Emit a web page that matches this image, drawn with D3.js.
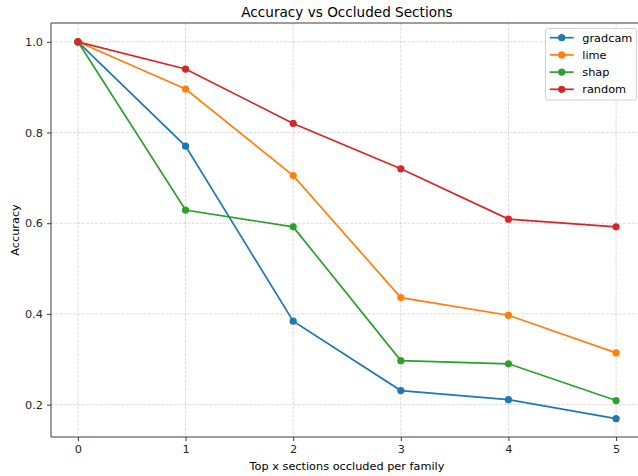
<!DOCTYPE html>
<html>
<head>
<meta charset="utf-8">
<script src="https://cdn.jsdelivr.net/npm/d3@7"></script>
<style>
  body { margin: 0; background: #fff; }
  svg { font-family: "DejaVu Sans", sans-serif; }
</style>
</head>
<body>
<div id="chart"></div>
<script>
// values
var steps = [0, 1, 2, 3, 4, 5];
var gradcam = [1.0, 0.770, 0.384, 0.231, 0.211, 0.169];
var lime = [1.0, 0.896, 0.705, 0.436, 0.397, 0.314];
var shap = [1.0, 0.629, 0.592, 0.297, 0.290, 0.209];
var random = [1.0, 0.940, 0.820, 0.720, 0.609, 0.592];
var seriesNames = ['gradcam', 'lime', 'shap', 'random'];
var colors = ['#1f77b4', '#ff7f0e', '#2ca02c', '#d62728'];
var yTicks = [0.2, 0.4, 0.6, 0.8, 1.0];

var series = [gradcam, lime, shap, random].map(function(vals, i) {
    return { name: seriesNames[i], color: colors[i], values: vals };
});

var width = 638, height = 476;
var m = { left: 51, right: -5, top: 23, bottom: 39 };

var svg = d3.select('#chart').append('svg')
    .attr('width', width)
    .attr('height', height);

var x = d3.scaleLinear().domain([-0.25, 5.25]).range([m.left, width - m.right]);
var y = d3.scaleLinear().domain([0.1286, 1.0415]).range([height - m.bottom, m.top]);

// grid
var grid = svg.append('g');
grid.selectAll('.gx').data(steps).enter().append('line')
    .attr('x1', function(d) { return x(d); }).attr('x2', function(d) { return x(d); })
    .attr('y1', m.top).attr('y2', height - m.bottom);
grid.selectAll('.gy').data(yTicks).enter().append('line')
    .attr('y1', function(d) { return y(d); }).attr('y2', function(d) { return y(d); })
    .attr('x1', m.left).attr('x2', width - m.right);
grid.selectAll('line')
    .attr('stroke', '#b0b0b0').attr('stroke-opacity', 0.6)
    .attr('stroke-width', 0.8).attr('stroke-dasharray', '3,1.4');

// axes (spines drawn separately)
svg.append('g')
    .attr('transform', 'translate(0,' + (height - m.bottom) + ')')
    .call(d3.axisBottom(x).tickValues(steps).tickFormat(d3.format('d')).tickSize(4).tickPadding(4))
    .call(function(g) { g.select('.domain').remove(); });
svg.append('g')
    .attr('transform', 'translate(' + m.left + ',0)')
    .call(d3.axisLeft(y).tickValues(yTicks).tickFormat(d3.format('.1f')).tickSize(4).tickPadding(4))
    .call(function(g) { g.select('.domain').remove(); });
svg.selectAll('.tick text').attr('font-size', 11.3).attr('fill', '#262626').attr('font-family', 'DejaVu Sans');
svg.selectAll('.tick line').attr('stroke', '#262626').attr('stroke-width', 0.9);

var spines = svg.append('g').attr('stroke', '#262626').attr('stroke-width', 0.9);
spines.append('line')
    .attr('x1', m.left).attr('x2', width - m.right)
    .attr('y1', m.top).attr('y2', m.top);
spines.append('line')
    .attr('x1', m.left).attr('x2', width - m.right)
    .attr('y1', height - m.bottom).attr('y2', height - m.bottom);
spines.append('line')
    .attr('x1', m.left).attr('x2', m.left)
    .attr('y1', m.top).attr('y2', height - m.bottom);

// lines + markers
var line = d3.line()
    .x(function(d, i) { return x(steps[i]); })
    .y(function(d) { return y(d); });

var groups = svg.selectAll('.series').data(series).enter().append('g');
groups.append('path')
    .attr('d', function(d) { return line(d.values); })
    .attr('fill', 'none')
    .attr('stroke', function(d) { return d.color; })
    .attr('stroke-width', 1.7);
groups.selectAll('circle').data(function(d) {
        return d.values.map(function(v, i) { return { v: v, i: i, color: d.color }; });
    }).enter().append('circle')
    .attr('cx', function(d) { return x(steps[d.i]); })
    .attr('cy', function(d) { return y(d.v); })
    .attr('r', 3.6)
    .attr('fill', function(d) { return d.color; });

// titles
svg.append('text')
    .attr('x', 347).attr('y', 17)
    .attr('text-anchor', 'middle')
    .attr('font-size', 13.6).attr('fill', '#000')
    .text('Accuracy vs Occluded Sections');
svg.append('text')
    .attr('x', 347).attr('y', 470)
    .attr('text-anchor', 'middle')
    .attr('font-size', 11.3).attr('fill', '#000')
    .text('Top x sections occluded per family');
svg.append('text')
    .attr('transform', 'translate(19,230) rotate(-90)')
    .attr('text-anchor', 'middle')
    .attr('font-size', 11.3).attr('fill', '#000')
    .text('Accuracy');

// legend
var legend = svg.append('g');
legend.append('rect')
    .attr('x', 545.5).attr('y', 28.5).attr('width', 91).attr('height', 71.5)
    .attr('rx', 2.5)
    .attr('fill', '#fff').attr('fill-opacity', 0.8)
    .attr('stroke', '#cccccc').attr('stroke-width', 0.9);
var items = legend.selectAll('.item').data(series).enter().append('g')
    .attr('transform', function(d, i) { return 'translate(0,' + (37.7 + i * 17.2) + ')'; });
items.append('line')
    .attr('x1', 549.7).attr('x2', 573.7)
    .attr('stroke', function(d) { return d.color; }).attr('stroke-width', 1.7);
items.append('circle')
    .attr('cx', 561.7).attr('r', 3.6)
    .attr('fill', function(d) { return d.color; });
items.append('text')
    .attr('x', 582.3).attr('y', 4)
    .attr('font-size', 11.3).attr('fill', '#000')
    .text(function(d) { return d.name; });
</script>
</body>
</html>
